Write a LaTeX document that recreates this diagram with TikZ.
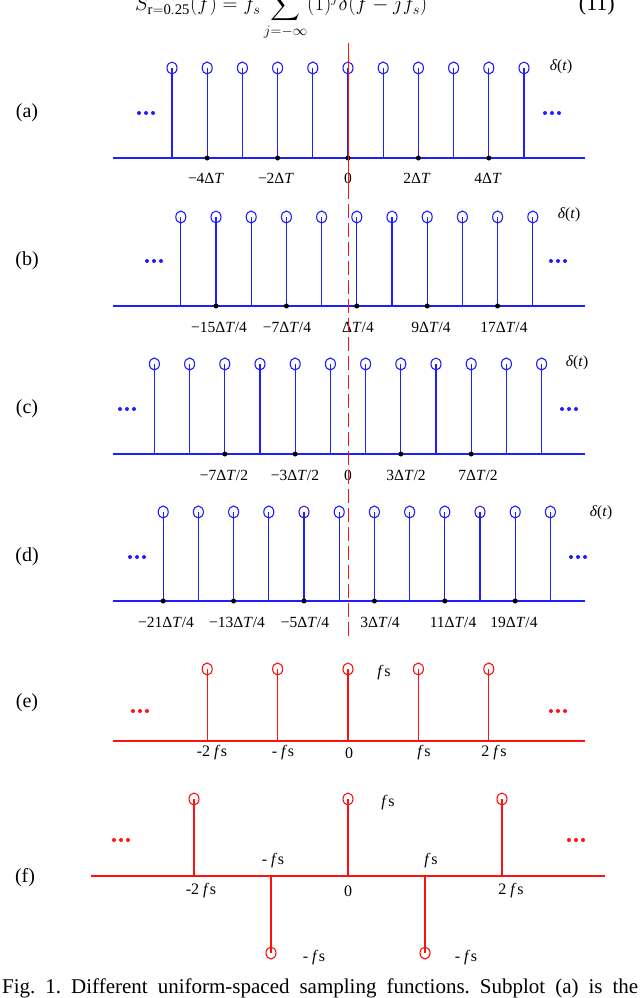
\documentclass[tikz,border=0pt]{standalone}
\usepackage{amsmath}
\usepackage{fontspec}
\setmainfont{Liberation Serif}
\usetikzlibrary{positioning}
\definecolor{StemBlue}{HTML}{1E1EFF}
\definecolor{StemRed}{HTML}{FF1010}
\frenchspacing
\tikzset{
    axisline/.style={line width=2pt},
    stemline/.style={line width=1.2pt},
    stemhead/.style={line width=1.1pt},
    tickdot/.style={fill=black},
    ticklabel/.style={inner sep=0pt, font=\fontsize{15.5}{17}\selectfont},
    freqlabel/.style={inner sep=0pt, font=\fontsize{16}{18}\selectfont},
    plotlabel/.style={inner sep=0pt, font=\fontsize{20}{22}\selectfont},
    zeroline/.style={draw=StemRed, line width=1pt}
}
% one row of stems: axis y, circle y, shift, first k, last k
\newcommand{\stemrow}[5]{%
    \foreach \k in {#4,...,#5} {
        \draw[stemline] ({348+(\k#3)*35.2},#1) -- ({348+(\k#3)*35.2},#2);
        \draw[stemhead] ({348+(\k#3)*35.2},#2) ellipse (5 and 6);
    }}
% three bold dots
\newcommand{\moredots}[2]{%
    \foreach \i in {-1,0,1} \fill ({#1+\i*7},#2) circle (2);}
\newcommand{\fsym}{\textit{f}\kern0.5pt s}
\begin{document}
\begin{tikzpicture}[x=1pt, y=-1pt]
    \useasboundingbox (0,0) rectangle (640,998);

    % Equation (cut at the top)
    \node[anchor=base west, inner sep=0pt, font=\fontsize{21}{23}\selectfont] (eqn) at (135,11)
        {$\displaystyle S_{\mathrm{r=0.25}}(f) = f_s\sum_{j=-\infty}(1)^j\delta(f-jf_s)$};
    \node[anchor=base east, inner sep=0pt, font=\fontsize{22}{24}\selectfont] (eqnum) at (615,11) {(11)};

    % (a)
    \begin{scope}[draw=StemBlue, fill=StemBlue]
        \draw[axisline] (113,158) -- (585,158);
        \stemrow{158}{68}{+0}{-5}{5}
        \moredots{146}{113}
        \moredots{552}{113}
    \end{scope}
    \foreach \p in {-4,-2,0,2,4}
        \fill[tickdot] ({348+\p*35.2},158) circle (2.5);
    \node[plotlabel] (la) at (27,113) {(a)};
    \node[ticklabel] (da) at (561,67) {\textit{δ}(\textit{t})};
    \node[ticklabel] (a1) at (206,178) {−4Δ\textit{T}};
    \node[ticklabel] (a2) at (276,178) {−2Δ\textit{T}};
    \node[ticklabel] (a3) at (348,178) {0};
    \node[ticklabel] (a4) at (417,178) {2Δ\textit{T}};
    \node[ticklabel] (a5) at (488,178) {4Δ\textit{T}};

    % (b)
    \begin{scope}[draw=StemBlue, fill=StemBlue]
        \draw[axisline] (113,306) -- (585,306);
        \stemrow{306}{217}{+0.25}{-5}{5}
        \moredots{154}{261}
        \moredots{558}{261}
    \end{scope}
    \foreach \p in {-3.75,-1.75,0.25,2.25,4.25}
        \fill[tickdot] ({348+\p*35.2},306) circle (2.5);
    \node[plotlabel] (lb) at (27,261) {(b)};
    \node[ticklabel] (db) at (569,215) {\textit{δ}(\textit{t})};
    \node[ticklabel] (b1) at (219,327) {−15Δ\textit{T}/4};
    \node[ticklabel] (b2) at (287,327) {−7Δ\textit{T}/4};
    \node[ticklabel] (b3) at (358,327) {Δ\textit{T}/4};
    \node[ticklabel] (b4) at (431,327) {9Δ\textit{T}/4};
    \node[ticklabel] (b5) at (504,327) {17Δ\textit{T}/4};

    % (c)
    \begin{scope}[draw=StemBlue, fill=StemBlue]
        \draw[axisline] (113,454) -- (585,454);
        \stemrow{454}{364}{+0.5}{-6}{5}
        \moredots{127}{409}
        \moredots{569}{409}
    \end{scope}
    \foreach \p in {-3.5,-1.5,1.5,3.5}
        \fill[tickdot] ({348+\p*35.2},454) circle (2.5);
    \node[plotlabel] (lc) at (27,409) {(c)};
    \node[ticklabel] (dc) at (577,363) {\textit{δ}(\textit{t})};
    \node[ticklabel] (c1) at (224,475) {−7Δ\textit{T}/2};
    \node[ticklabel] (c2) at (295,475) {−3Δ\textit{T}/2};
    \node[ticklabel] (c3) at (348,475) {0};
    \node[ticklabel] (c4) at (406,475) {3Δ\textit{T}/2};
    \node[ticklabel] (c5) at (478,475) {7Δ\textit{T}/2};

    % (d)
    \begin{scope}[draw=StemBlue, fill=StemBlue]
        \draw[axisline] (113,601) -- (585,601);
        \stemrow{601}{512}{-0.25}{-5}{6}
        \moredots{137}{557}
        \moredots{578}{557}
    \end{scope}
    \foreach \p in {-5.25,-3.25,-1.25,0.75,2.75,4.75}
        \fill[tickdot] ({348+\p*35.2},601) circle (2.5);
    \node[plotlabel] (ld) at (27,557) {(d)};
    \node[ticklabel] (dd) at (601,513) {\textit{δ}(\textit{t})};
    \node[ticklabel] (d1) at (166,622) {−21Δ\textit{T}/4};
    \node[ticklabel] (d2) at (237,622) {−13Δ\textit{T}/4};
    \node[ticklabel] (d3) at (305,622) {−5Δ\textit{T}/4};
    \node[ticklabel] (d4) at (380,622) {3Δ\textit{T}/4};
    \node[ticklabel] (d5) at (453,622) {11Δ\textit{T}/4};
    \node[ticklabel] (d6) at (514,622) {19Δ\textit{T}/4};

    % Zero reference line
    \draw[zeroline] (348,43) -- (348,185);
    \draw[zeroline, dash pattern=on 14pt off 5pt] (348,185) -- (348,640);

    % (e)
    \begin{scope}[draw=StemRed, fill=StemRed]
        \draw[axisline] (113,741) -- (585,741);
        \foreach \m in {-2,...,2} {
            \draw[stemline] ({348+\m*70.4},741) -- ({348+\m*70.4},669);
            \draw[stemhead] ({348+\m*70.4},669) ellipse (5 and 6);
        }
        \moredots{140}{711}
        \moredots{558}{711}
    \end{scope}
    \node[plotlabel] (le) at (27,703) {(e)};
    \node[freqlabel] (fe) at (384,673) {\fsym};
    \node[freqlabel] (e1) at (212,753) {-2 \fsym};
    \node[freqlabel] (e2) at (283,753) {- \fsym};
    \node[freqlabel] (e3) at (349,753) {0};
    \node[freqlabel] (e4) at (424,753) {\fsym};
    \node[freqlabel] (e5) at (494,753) {2 \fsym};

    % (f)
    \begin{scope}[draw=StemRed, fill=StemRed]
        \draw[axisline] (91,876) -- (605,876);
        \foreach \m in {-2,0,2} {
            \draw[stemline] ({348+\m*77},876) -- ({348+\m*77},799);
            \draw[stemhead] ({348+\m*77},799) ellipse (5 and 6);
        }
        \foreach \m in {-1,1} {
            \draw[stemline] ({348+\m*77},876) -- ({348+\m*77},953);
            \draw[stemhead] ({348+\m*77},953) ellipse (5 and 6);
        }
        \moredots{121}{840}
        \moredots{576}{840}
    \end{scope}
    \node[plotlabel] (lf) at (25,878) {(f)};
    \node[freqlabel] (ff) at (388,803) {\fsym};
    \node[freqlabel] (f1) at (201,891) {-2 \fsym};
    \node[freqlabel] (f2) at (348,891) {0};
    \node[freqlabel] (f3) at (511,891) {2 \fsym};
    \node[freqlabel] (f4) at (273,861) {- \fsym};
    \node[freqlabel] (f5) at (431,861) {\fsym};
    \node[freqlabel] (f6) at (314,958) {- \fsym};
    \node[freqlabel] (f7) at (466,958) {- \fsym};

    % Caption (cut at the bottom)
    \node[anchor=base west, inner sep=0pt, font=\fontsize{21}{23}\selectfont] (caption) at (2,993)
        {\makebox[636pt][s]{Fig. 1. Different uniform-spaced sampling functions. Subplot (a) is the}};
\end{tikzpicture}
\end{document}
